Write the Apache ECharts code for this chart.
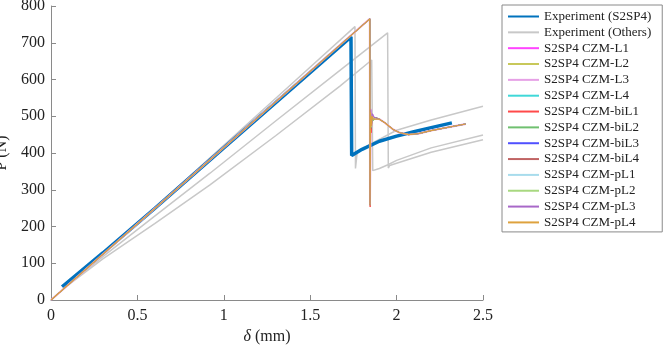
<!DOCTYPE html>
<html>
<head>
<meta charset="utf-8">
<script src="https://cdn.jsdelivr.net/npm/echarts@6/dist/echarts.min.js"></script>
<style>
  html, body { margin: 0; padding: 0; background: #fff; }
  #chart { width: 664px; height: 346px; }
</style>
</head>
<body>
<div id="chart"></div>
<script>
// axis ticks
const xTicks = [0, 0.5, 1, 1.5, 2, 2.5];
const yTicks = [0, 100, 200, 300, 400, 500, 600, 700, 800];

// experiment S2SP4 (delta mm, P N)
const expS2SP4 = [[0.064, 36], [0.3, 128], [0.6, 249], [1.0, 414], [1.4, 578], [1.736, 716],
  [1.74, 393], [1.8, 410], [1.9, 432], [2.0, 446], [2.1, 458], [2.2, 469], [2.32, 482]];

// other experiments
const expOther1 = [[0.07, 32], [0.3, 126], [0.6, 251], [1.0, 421], [1.4, 591], [1.759, 744],
  [1.762, 358], [1.772, 402], [1.85, 425], [2.0, 462], [2.2, 490], [2.5, 527]];
const expOther2 = [[0.07, 30], [0.3, 118], [0.6, 228], [0.92, 345], [1.3, 487], [1.672, 625], [1.948, 727],
  [1.952, 359], [1.96, 366], [2.0, 372], [2.2, 402], [2.5, 436]];
const expOther3 = [[0.07, 30], [0.3, 112], [0.6, 208], [0.92, 313], [1.3, 447], [1.672, 582], [1.856, 653],
  [1.862, 352], [1.9, 358], [1.95, 368], [2.0, 380], [2.2, 414], [2.5, 449]];

// CZM models: shared loading branch and softening tail, own drop/oscillation
const czmRise = [[0, 0], [1.845, 765]];
const czmTail = [[1.875, 497], [1.9, 492], [1.93, 483], [1.98, 464], [2.02, 455], [2.07, 450],
  [2.13, 453], [2.2, 461], [2.3, 470], [2.4, 479]];
const dropL1 = [[1.846, 262], [1.849, 512], [1.853, 470], [1.858, 503], [1.866, 492]];
const dropL2 = [[1.846, 260], [1.849, 505], [1.853, 475], [1.858, 498], [1.866, 490]];
const dropL3 = [[1.846, 259], [1.850, 520], [1.854, 480], [1.860, 505], [1.868, 496]];
const dropL4 = [[1.846, 261], [1.849, 500], [1.853, 472], [1.858, 496], [1.866, 489]];
const dropBiL1 = [[1.844, 650], [1.847, 253], [1.850, 482], [1.853, 455], [1.858, 492], [1.866, 487]];
const dropBiL2 = [[1.846, 258], [1.849, 498], [1.853, 468], [1.858, 494], [1.866, 488]];
const dropBiL3 = [[1.846, 260], [1.849, 508], [1.853, 476], [1.858, 500], [1.866, 491]];
const dropBiL4 = [[1.846, 259], [1.849, 503], [1.853, 466], [1.858, 497], [1.866, 490]];
const dropPL1 = [[1.846, 261], [1.849, 515], [1.853, 478], [1.858, 502], [1.866, 493]];
const dropPL2 = [[1.846, 260], [1.849, 495], [1.853, 470], [1.858, 495], [1.866, 489]];
const dropPL3 = [[1.846, 258], [1.850, 518], [1.854, 474], [1.860, 507], [1.868, 498]];
const dropPL4 = [[1.846, 258], [1.849, 510], [1.853, 473], [1.858, 500], [1.866, 492]];

const czmNames = ['S2SP4 CZM-L1', 'S2SP4 CZM-L2', 'S2SP4 CZM-L3', 'S2SP4 CZM-L4',
  'S2SP4 CZM-biL1', 'S2SP4 CZM-biL2', 'S2SP4 CZM-biL3', 'S2SP4 CZM-biL4',
  'S2SP4 CZM-pL1', 'S2SP4 CZM-pL2', 'S2SP4 CZM-pL3', 'S2SP4 CZM-pL4'];
const czmDrops = [dropL1, dropL2, dropL3, dropL4, dropBiL1, dropBiL2, dropBiL3, dropBiL4,
  dropPL1, dropPL2, dropPL3, dropPL4];
const czmColors = ['#ff44ff', '#c8c85a', '#e6a0e6', '#40d8d8', '#ff4a4a', '#70c070', '#5050ff', '#c06464',
  '#a8dcec', '#a8d880', '#a868c8', '#dea23e'];
const czmWidths = [1, 1, 2, 1, 1, 1, 1, 1, 1, 1, 1, 1.2];

const font = 'Liberation Serif';
const chart = echarts.init(document.getElementById('chart'));

const series = [
  { name: 'Experiment (S2SP4)', type: 'line', data: expS2SP4, z: 3,
    lineStyle: { color: '#0072bd', width: 3.5 }, itemStyle: { color: '#0072bd' } }
];
[expOther1, expOther2, expOther3].forEach((d) => {
  series.push({ name: 'Experiment (Others)', type: 'line', data: d, z: 2,
    lineStyle: { color: '#c8c8c8', width: 1.5 }, itemStyle: { color: '#dcdcdc' } });
});
czmNames.forEach((n, i) => {
  series.push({ name: n, type: 'line', z: 4,
    data: czmRise.concat(czmDrops[i], czmTail),
    lineStyle: { color: czmColors[i], width: czmWidths[i] }, itemStyle: { color: czmColors[i] } });
});
series.forEach((s) => { s.symbol = 'none'; s.silent = true; s.animation = false; });

const axisGray = '#8a8a8a';
const option = {
  animation: false,
  grid: { left: 51, right: 181, top: 6, bottom: 46, outerBoundsMode: 'none' },
  legend: {
    data: ['Experiment (S2SP4)', 'Experiment (Others)'].concat(czmNames),
    orient: 'vertical',
    left: 502, top: 5,
    padding: [5, 11, 3, 5],
    itemWidth: 31, itemHeight: 12, itemGap: 2.84,
    itemStyle: { opacity: 0 },
    backgroundColor: '#fff',
    borderColor: '#8a8a8a', borderWidth: 1,
    textStyle: { fontFamily: font, fontSize: 13, lineHeight: 12, color: '#222' }
  },
  xAxis: {
    type: 'value', min: 0, max: 2.5, interval: 0.5,
    name: '{i|δ} (mm)', nameLocation: 'middle', nameGap: 28,
    nameTextStyle: { fontFamily: font, fontSize: 16, color: '#222',
      rich: { i: { fontFamily: font, fontSize: 16, fontStyle: 'italic', color: '#222' } } },
    axisLine: { lineStyle: { color: axisGray } },
    axisTick: { inside: true, length: 5, lineStyle: { color: axisGray } },
    axisLabel: { fontFamily: font, fontSize: 16, color: '#222', margin: 8,
      formatter: (v) => String(xTicks.find((t) => Math.abs(t - v) < 1e-9) ?? v) },
    splitLine: { show: false }
  },
  yAxis: {
    type: 'value', min: 0, max: 800, interval: 100,
    name: 'P (N)', nameLocation: 'middle', nameGap: 36, nameRotate: 90,
    nameTextStyle: { fontFamily: font, fontSize: 16, color: '#222' },
    axisLine: { show: true, lineStyle: { color: axisGray } },
    axisTick: { show: true, inside: true, length: 5, lineStyle: { color: axisGray } },
    axisLabel: { fontFamily: font, fontSize: 16, color: '#222', margin: 6,
      formatter: (v) => String(yTicks.find((t) => t === v) ?? v) },
    splitLine: { show: false }
  },
  series: series
};
chart.setOption(option);
</script>
</body>
</html>
